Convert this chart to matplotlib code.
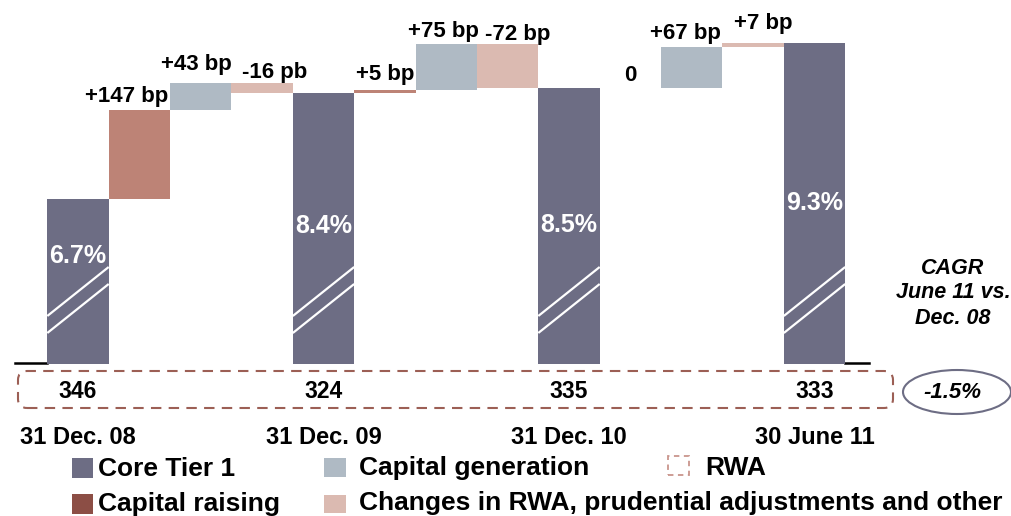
import matplotlib
matplotlib.use("Agg")
import matplotlib.pyplot as plt
import matplotlib.patches as mpatches
import numpy as np

plt.rcParams['font.family'] = ['Liberation Sans', 'DejaVu Sans']
plt.rcParams['font.weight'] = 'bold'

# ---------------- data ----------------
categories = ["31 Dec. 08", "31 Dec. 09", "31 Dec. 10", "30 June 11"]
total_labels = ["6.7%", "8.4%", "8.5%", "9.3%"]
start_ct1 = 6.70                       # Core Tier 1 at 31 Dec. 08 (%)
# steps between consecutive dates (bp): three per period
step_values_bp = [147, 43, -16, 5, 75, -72, 0, 67, 7]
step_labels = ["+147 bp", "+43 bp", "-16 pb", "+5 bp", "+75 bp", "-72 bp", "0", "+67 bp", "+7 bp"]
step_kinds = ["raising", "generation", "changes", "raising", "generation", "changes",
              "raising", "generation", "changes"]
rwa_values = ["346", "324", "335", "333"]
cagr_label = "-1.5%"

# ---------------- style ----------------
C_CT1 = "#6d6d84"
C_RAISE = "#bd8376"
C_RAISE_LEG = "#8c4e45"
C_GEN = "#afbac4"
C_CHG = "#dbbab1"
C_RWA = "#9c5f55"
C_RWA_LEG = "#c9958c"

W, H, DPI = 1012, 516, 100
PX_PER_UNIT_X = 61.375
X0_PX = 78.0
BASE_PX = 364.0
PX_PER_PCT = 61.0
Y_BREAK = 4.0

fig = plt.figure(figsize=(W / DPI, H / DPI), dpi=DPI)
ax = fig.add_axes([0, 0, 1, 1])
ax.set_xlim(-X0_PX / PX_PER_UNIT_X, (W - X0_PX) / PX_PER_UNIT_X)
ax.set_ylim(Y_BREAK - (H - BASE_PX) / PX_PER_PCT, Y_BREAK + BASE_PX / PX_PER_PCT)
ax.axis("off")

def ypx(p):
    """pixel row -> data y"""
    return Y_BREAK - (p - BASE_PX) / PX_PER_PCT

def dx(px):
    return px / PX_PER_UNIT_X

def dy(px):
    return px / PX_PER_PCT

# compute waterfall
kind_color = {"raising": C_RAISE, "generation": C_GEN, "changes": C_CHG}
steps = np.array(step_values_bp) / 100.0
level = start_ct1
totals = [level]
step_pos, step_bottom, step_height, step_top = [], [], [], []
pos = 0
for k in range(len(steps)):
    pos += 1
    a = level
    b = level + steps[k]
    step_pos.append(pos)
    step_bottom.append(min(a, b))
    step_height.append(abs(b - a))
    step_top.append(max(a, b))
    level = b
    if (k + 1) % 3 == 0:
        pos += 1
        totals.append(level)
total_pos = [0, 4, 8, 12]

# total bars
ax.bar(total_pos, np.array(totals) - Y_BREAK, bottom=Y_BREAK, width=1.0,
       color=C_CT1, linewidth=0, zorder=2)
# step bars
for p, b, h, kd in zip(step_pos, step_bottom, step_height, step_kinds):
    if h > 0:
        ax.bar(p, h, bottom=b, width=1.0, color=kind_color[kd], linewidth=0, zorder=2)

# break marks on total bars
for p in total_pos:
    xl, xr = p - 0.5, p + 0.5
    ax.plot([xl, xr], [Y_BREAK + dy(48), Y_BREAK + dy(97)], color="white", lw=1.6, zorder=3,
            solid_capstyle="butt")
    ax.plot([xl, xr], [Y_BREAK + dy(31), Y_BREAK + dy(80)], color="white", lw=1.6, zorder=3,
            solid_capstyle="butt")

# baseline stubs
ax.plot([dx(15 - X0_PX), -0.5], [ypx(362.5)] * 2, color="black", lw=1.8, zorder=1)
ax.plot([12.5, dx(869 - X0_PX)], [ypx(362.5)] * 2, color="black", lw=1.8, zorder=1)

# step labels
lab_dx = [-12.5, -4, 12, 0, -3, 10, 0, -6, 10]
lab_dy = [8, 13, 5, 10, 7, 4, 7, 8, 14]
for p, t, s, ox, oy in zip(step_pos, step_top, step_labels, lab_dx, lab_dy):
    ax.text(p + dx(ox), t + dy(oy), s, ha="center", va="baseline", fontsize=16,
            fontweight="bold", color="black")

# total labels (white, inside bar)
tot_label_px = [256, 226, 225, 203]
for p, s, yp in zip(total_pos, total_labels, tot_label_px):
    ax.text(p, ypx(yp), s, ha="center", va="center", fontsize=18, fontweight="bold",
            color="white", zorder=4)

# RWA values and dashed box
for p, s in zip(total_pos, rwa_values):
    ax.text(p, ypx(392), s, ha="center", va="center", fontsize=16.5, fontweight="bold",
            color="black")
box = mpatches.FancyBboxPatch((18 / DPI, (H - 408) / DPI), (893 - 18) / DPI, (408 - 371) / DPI,
                              boxstyle="round,pad=0,rounding_size=0.09",
                              transform=fig.dpi_scale_trans, fill=False, edgecolor=C_RWA,
                              lw=1.5, linestyle=(0, (5, 3.5)))
fig.patches.append(box)

# category labels
for p, s in zip(total_pos, categories):
    ax.text(p, ypx(437), s, ha="center", va="center", fontsize=17, fontweight="bold",
            color="black")

# CAGR annotation
for s, yp in zip(["CAGR", "June 11 vs.", "Dec. 08"], [268, 293, 318]):
    fig.text(953 / W, 1 - yp / H, s, ha="center", va="center",
             fontsize=15.5, fontweight="bold", fontstyle="italic")
ell = mpatches.Ellipse((957 / DPI, (H - 392) / DPI), 1.08, 0.44, transform=fig.dpi_scale_trans,
                       fill=False, edgecolor=C_CT1, lw=1.5)
fig.patches.append(ell)
fig.text(952 / W, 1 - 393 / H, cagr_label, ha="center", va="center", fontsize=16,
         fontweight="bold", fontstyle="italic")

# legend (manual)
def leg_square(x0, y0, w, h, color, dashed=False):
    if dashed:
        r = mpatches.Rectangle((x0 / DPI, (H - y0 - h) / DPI), w / DPI, h / DPI,
                               transform=fig.dpi_scale_trans, fill=False, edgecolor=C_RWA_LEG,
                               lw=1.3, linestyle=(0, (3, 2.5)))
    else:
        r = mpatches.Rectangle((x0 / DPI, (H - y0 - h) / DPI), w / DPI, h / DPI,
                               transform=fig.dpi_scale_trans, facecolor=color, edgecolor="none")
    fig.patches.append(r)

def leg_text(x0, yb, s):
    fig.text(x0 / W, 1 - yb / H, s, ha="left", va="baseline", fontsize=19, fontweight="bold")

leg_square(72, 458, 21, 20, C_CT1)
leg_text(98, 476, "Core Tier 1")
leg_square(72, 494, 21, 20, C_RAISE_LEG)
leg_text(98, 511, "Capital raising")
leg_square(324, 458, 22, 19, C_GEN)
leg_text(359, 475, "Capital generation")
leg_square(324, 495, 22, 18, C_CHG)
leg_text(359, 510, "Changes in RWA, prudential adjustments and other")
leg_square(668, 456, 21, 19, None, dashed=True)
leg_text(705, 475, "RWA")

fig.savefig("out.png", dpi=DPI)
